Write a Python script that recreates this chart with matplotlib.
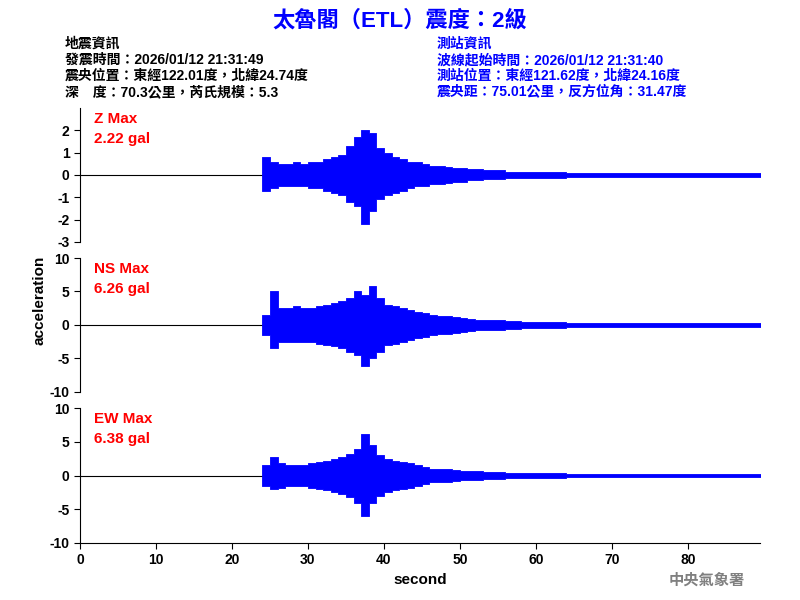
import numpy as np
import matplotlib
matplotlib.use("Agg")
import matplotlib.pyplot as plt

plt.rcParams['font.family'] = ['Liberation Sans', 'Noto Sans CJK TC', 'DejaVu Sans']
plt.rcParams['axes.unicode_minus'] = False

t0 = 24
z_up = [0.8,0.6,0.5,0.5,0.6,0.5,0.6,0.6,0.7,0.8,
        0.9,1.3,1.7,2.0,1.9,1.2,1.0,0.8,0.7,0.6,
        0.6,0.5,0.4,0.4,0.35,0.3,0.3,0.25,0.25,0.2,
        0.2,0.2,0.15,0.15,0.15,0.15,0.15,0.12,0.12,0.12,
        0.1,0.1,0.1,0.1,0.1,0.1,0.1,0.1,0.1,0.1,
        0.1,0.1,0.1,0.1,0.1,0.1,0.1,0.1,0.1,0.1,
        0.1,0.1,0.1,0.1,0.1,0.1]
z_lo = [-0.7,-0.6,-0.5,-0.5,-0.5,-0.5,-0.6,-0.6,-0.7,-0.8,
        -0.9,-1.2,-1.4,-2.2,-1.6,-1.1,-0.9,-0.8,-0.7,-0.6,
        -0.5,-0.5,-0.4,-0.4,-0.35,-0.3,-0.3,-0.25,-0.25,-0.2,
        -0.2,-0.2,-0.15,-0.15,-0.15,-0.15,-0.15,-0.12,-0.12,-0.12,
        -0.1,-0.1,-0.1,-0.1,-0.1,-0.1,-0.1,-0.1,-0.1,-0.1,
        -0.1,-0.1,-0.1,-0.1,-0.1,-0.1,-0.1,-0.1,-0.1,-0.1,
        -0.1,-0.1,-0.1,-0.1,-0.1,-0.1]
ns_up = [1.5,5.0,2.5,2.5,2.8,2.5,2.5,2.8,3.0,3.2,
         3.5,4.0,5.0,4.5,5.8,4.0,3.0,2.8,2.5,2.2,
         2.0,1.8,1.5,1.4,1.3,1.2,1.0,0.9,0.8,0.8,
         0.7,0.7,0.6,0.6,0.5,0.5,0.5,0.4,0.4,0.4,
         0.35,0.35,0.35,0.3,0.3,0.3,0.3,0.3,0.3,0.3,
         0.3,0.3,0.3,0.3,0.3,0.3,0.3,0.3,0.3,0.3,
         0.3,0.3,0.3,0.3,0.3,0.3]
ns_lo = [-1.5,-3.5,-2.5,-2.5,-2.5,-2.5,-2.5,-2.8,-3.0,-3.2,
         -3.5,-4.0,-4.5,-6.2,-5.0,-4.0,-3.0,-2.8,-2.5,-2.2,
         -2.0,-1.8,-1.5,-1.4,-1.3,-1.2,-1.0,-0.9,-0.8,-0.8,
         -0.7,-0.7,-0.6,-0.6,-0.5,-0.5,-0.5,-0.4,-0.4,-0.4,
         -0.35,-0.35,-0.35,-0.3,-0.3,-0.3,-0.3,-0.3,-0.3,-0.3,
         -0.3,-0.3,-0.3,-0.3,-0.3,-0.3,-0.3,-0.3,-0.3,-0.3,
         -0.3,-0.3,-0.3,-0.3,-0.3,-0.3]
ew_up = [1.5,2.8,1.8,1.5,1.5,1.5,1.8,2.0,2.2,2.5,
         2.8,3.2,4.0,6.2,4.5,3.0,2.5,2.2,2.0,1.8,
         1.5,1.2,1.0,1.0,0.9,0.8,0.7,0.6,0.6,0.5,
         0.5,0.5,0.4,0.4,0.4,0.35,0.35,0.3,0.3,0.3,
         0.25,0.25,0.25,0.25,0.2,0.2,0.2,0.2,0.2,0.2,
         0.2,0.2,0.2,0.2,0.2,0.2,0.2,0.2,0.2,0.2,
         0.2,0.2,0.2,0.2,0.2,0.2]
ew_lo = [-1.5,-2.0,-1.8,-1.5,-1.5,-1.5,-1.8,-2.0,-2.2,-2.5,
         -2.8,-3.2,-4.0,-6.0,-4.0,-3.0,-2.5,-2.2,-2.0,-1.8,
         -1.5,-1.2,-1.0,-1.0,-0.9,-0.8,-0.7,-0.6,-0.6,-0.5,
         -0.5,-0.5,-0.4,-0.4,-0.4,-0.35,-0.35,-0.3,-0.3,-0.3,
         -0.25,-0.25,-0.25,-0.25,-0.2,-0.2,-0.2,-0.2,-0.2,-0.2,
         -0.2,-0.2,-0.2,-0.2,-0.2,-0.2,-0.2,-0.2,-0.2,-0.2,
         -0.2,-0.2,-0.2,-0.2,-0.2,-0.2]

panels = [("Z Max", "2.22 gal", z_up, z_lo, (-3, 3), [-3,-2,-1,0,1,2]),
          ("NS Max", "6.26 gal", ns_up, ns_lo, (-10, 10), [-10,-5,0,5,10]),
          ("EW Max", "6.38 gal", ew_up, ew_lo, (-10, 10), [-10,-5,0,5,10])]
x_ticks = [0,10,20,30,40,50,60,70,80]

fig = plt.figure(figsize=(8, 6), dpi=100)
boxes = [(0.1, 0.597, 0.85, 0.223), (0.1, 0.347, 0.85, 0.223), (0.1, 0.095, 0.85, 0.225)]
for i, (name, val, up, lo, ylim, yt) in enumerate(panels):
    ax = fig.add_axes(boxes[i])
    edges = np.arange(t0, t0 + len(up) + 1)
    ax.fill_between(edges, up + [up[-1]], lo + [lo[-1]], step='post',
                    color='blue', linewidth=0.6)
    ax.axhline(0, color='black', lw=0.8, zorder=0)
    ax.set_xlim(0, 89.5)
    ax.set_ylim(*ylim)
    ax.set_yticks(yt)
    for s in ['top', 'right']:
        ax.spines[s].set_visible(False)
    ax.tick_params(labelsize=10, length=4)
    if i < 2:
        ax.spines['bottom'].set_visible(False)
        ax.set_xticks([])
    else:
        ax.set_xticks(x_ticks)
        ax.set_xlabel("second", fontsize=11, fontweight='bold')
    for lab in ax.get_yticklabels() + ax.get_xticklabels():
        lab.set_fontweight('bold')
    ax.text(0.02, 0.97, name + "\n" + val, transform=ax.transAxes, color='red',
            fontsize=11, fontweight='bold', va='top', linespacing=1.5)

fig.text(0.04, 0.5, "acceleration", rotation=90, fontsize=11, fontweight='bold', va='center')
fig.text(0.5, 0.965, "太魯閣（ETL）震度：2級", color='blue', fontsize=16,
         fontweight='bold', ha='center', va='center')
left = ["地震資訊", "發震時間：2026/01/12 21:31:49", "震央位置：東經122.01度，北緯24.74度",
        "深　度：70.3公里，芮氏規模：5.3"]
right = ["測站資訊", "波線起始時間：2026/01/12 21:31:40", "測站位置：東經121.62度，北緯24.16度",
         "震央距：75.01公里，反方位角：31.47度"]
for k in range(4):
    y = 1 - (44 + 16 * k) / 600
    fig.text(65 / 800, y, left[k], fontsize=10, fontweight='bold', va='center')
    fig.text(437 / 800, y, right[k], fontsize=10, fontweight='bold', va='center', color='blue')
fig.text(745 / 800, 1 - 580 / 600, "中央氣象署", color='gray', fontsize=11,
         fontweight='bold', ha='right', va='center')
fig.savefig("out.png")
